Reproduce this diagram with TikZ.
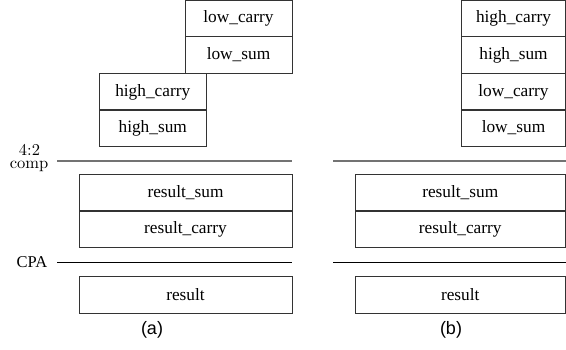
\documentclass[tikz,border=0pt]{standalone}
\usepackage{fontspec}
\setmainfont{Liberation Serif}
\newfontfamily\lmfont{lmroman10-regular.otf}
\newfontfamily\capfont{Liberation Sans}
\begin{document}
\begin{tikzpicture}[x=1pt,y=1pt,
  cell/.style={draw=black!80, line width=0.9pt, rectangle, inner sep=0pt, minimum height=36.5pt, font=\fontsize{17.3}{19}\selectfont},
  sepgray/.style={draw=black!55, line width=1.1pt},
  sepblack/.style={draw=black, line width=0.9pt},
  lab/.style={inner sep=0pt, align=center, font=\fontsize{16.5}{15}\selectfont},
  lmlab/.style={inner sep=0pt, anchor=base, font=\lmfont\fontsize{16.5}{17}\selectfont},
  subcap/.style={inner sep=0pt, font=\capfont\fontsize{18}{20}\selectfont}]
\useasboundingbox (0,0) rectangle (566,-349);
% (a)
\node[cell, minimum width=107pt] (alc) at (238.5,-18.5) {low\_carry};
\node[cell, minimum width=107pt] (als) at (238.5,-55) {low\_sum};
\node[cell, minimum width=106.5pt] (ahc) at (152.75,-92) {high\_carry};
\node[cell, minimum width=106.5pt] (ahs) at (152.75,-128) {high\_sum};
\node[lmlab] (comp1) at (29.5,-155) {4:2};
\node[lmlab] (comp2) at (29,-168.5) {comp};
\coordinate (a1l) at (57,-161); \coordinate (a1r) at (292,-161);
\draw[sepgray] (a1l) -- (a1r);
\node[cell, minimum width=213pt] (ars) at (185.5,-193) {result\_sum};
\node[cell, minimum width=213pt] (arc) at (185.5,-229) {result\_carry};
\node[lab] (cpa) at (32,-262.5) {CPA};
\coordinate (a2l) at (57,-262.7); \coordinate (a2r) at (292,-262.7);
\draw[sepblack] (a2l) -- (a2r);
\node[cell, minimum width=213pt] (ar) at (185.5,-295) {result};
\node[subcap] (capa) at (152,-330) {(a)};
% (b)
\node[cell, minimum width=104pt] (bhc) at (513.5,-18.5) {high\_carry};
\node[cell, minimum width=104pt] (bhs) at (513.5,-55) {high\_sum};
\node[cell, minimum width=104pt] (blc) at (513.5,-92) {low\_carry};
\node[cell, minimum width=104pt] (bls) at (513.5,-128) {low\_sum};
\coordinate (b1l) at (333,-161); \coordinate (b1r) at (566,-161);
\draw[sepgray] (b1l) -- (b1r);
\node[cell, minimum width=210.5pt] (brs) at (460.25,-193) {result\_sum};
\node[cell, minimum width=210.5pt] (brc) at (460.25,-229) {result\_carry};
\coordinate (b2l) at (333,-262.7); \coordinate (b2r) at (566,-262.7);
\draw[sepblack] (b2l) -- (b2r);
\node[cell, minimum width=210.5pt] (br) at (460.25,-295) {result};
\node[subcap] (capb) at (451,-330) {(b)};
\end{tikzpicture}
\end{document}
